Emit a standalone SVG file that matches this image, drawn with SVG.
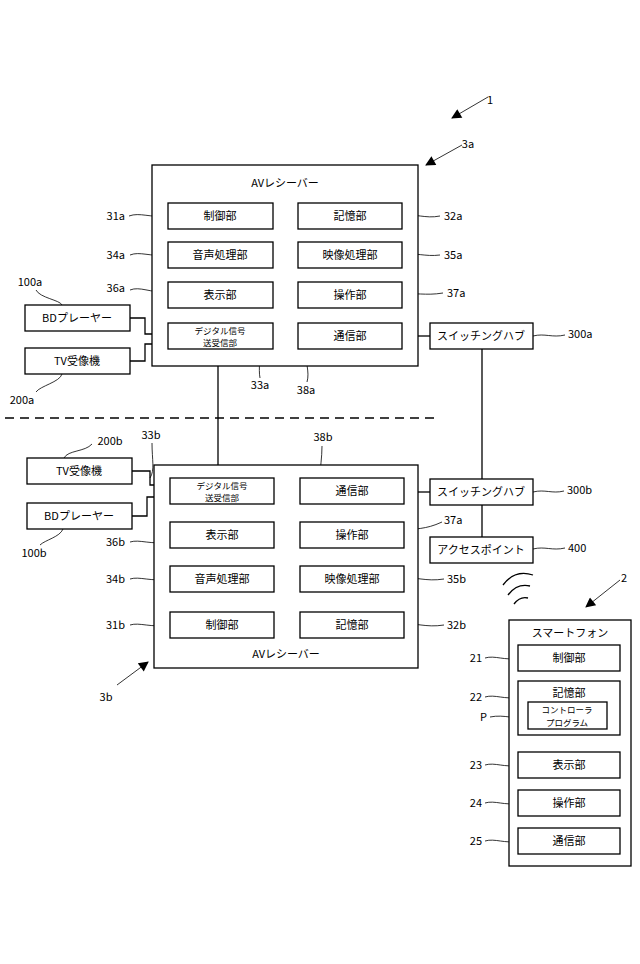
<svg xmlns="http://www.w3.org/2000/svg" width="640" height="964" viewBox="0 0 640 964">
<defs>
<style>
rect{fill:#fff;stroke:#000;stroke-width:1.3}
text{font-family:"Noto Sans CJK JP","Liberation Sans",sans-serif;font-size:11px;fill:#000}
.s{font-size:8.5px}
.c{text-anchor:middle}
.e{text-anchor:end}
.l{fill:none;stroke:#000;stroke-width:1.3}
.t{fill:none;stroke:#000;stroke-width:0.8}
</style>
<marker id="ar" viewBox="0 0 10 10" refX="9" refY="5" markerWidth="14" markerHeight="10" orient="auto" markerUnits="userSpaceOnUse"><path d="M0,0 L10,5 L0,10 z" fill="#000"/></marker>
</defs>
<rect width="640" height="964" style="stroke:none"/>
<g id="connectors">
<path class="l" d="M130,318 H145 V334 H168"/>
<path class="l" d="M130,361 H145 V344 H168"/>
<path class="l" d="M218,349 V478"/>
<path class="l" d="M402,336 H430"/>
<path class="l" d="M482,349 V479"/>
<path class="l" d="M132,471 H150 V485 H170"/>
<path class="l" d="M132,516 H147 V497 H170"/>
<path class="l" d="M404,492 H430"/>
<path class="l" d="M482,505 V537"/>
<path d="M5,418 H435" style="stroke:#000;stroke-width:1.5;stroke-dasharray:9,6;fill:none"/>
<path class="l" d="M503,585 q12,-16 30,-10 M508,595 q9,-12 22,-9 M514,604 q6,-8 14,-6"/>
<path class="t" d="M488,97 L452,118" marker-end="url(#ar)"/>
<path class="t" d="M462,145 L426,165" marker-end="url(#ar)"/>
<path class="t" d="M620,580 L586,607" marker-end="url(#ar)"/>
<path class="t" d="M117,685 L148,662" marker-end="url(#ar)"/>
<path class="t" d="M129,216 C140,212 150,218 168,216"/>
<path class="t" d="M130,255 C140,251 150,257 168,255"/>
<path class="t" d="M130,290 C140,286 150,293 168,292"/>
<path class="t" d="M402,216 C415,213 425,219 440,216"/>
<path class="t" d="M402,255 C415,252 425,257 440,255"/>
<path class="t" d="M402,295 C415,292 425,296 443,293"/>
<path class="t" d="M533,336 C545,333 552,338 565,335"/>
<path class="t" d="M36,290 C40,298 60,300 62,305"/>
<path class="t" d="M62,374 C60,382 40,386 36,392"/>
<path class="t" d="M255,349 C262,358 258,368 260,378"/>
<path class="t" d="M305,349 C305,360 310,372 307,382"/>
<path class="t" d="M64,458 C68,450 85,452 92,444"/>
<path class="t" d="M150,478 C155,470 152,460 152,443"/>
<path class="t" d="M320,478 C320,468 322,458 322,446"/>
<path class="t" d="M63,529 C60,537 45,540 40,545"/>
<path class="t" d="M130,542 C140,539 150,545 170,542"/>
<path class="t" d="M130,579 C140,576 150,582 170,579"/>
<path class="t" d="M130,625 C140,622 150,628 170,625"/>
<path class="t" d="M404,531 C415,528 425,530 442,522"/>
<path class="t" d="M404,579 C415,576 425,582 444,579"/>
<path class="t" d="M404,625 C415,622 425,628 444,625"/>
<path class="t" d="M533,492 C545,489 552,494 564,491"/>
<path class="t" d="M533,549 C545,546 552,551 565,548"/>
<path class="t" d="M485,658 C495,655 505,661 518,658"/>
<path class="t" d="M485,697 C495,694 505,700 518,697"/>
<path class="t" d="M490,717 C505,714 515,720 528,717"/>
<path class="t" d="M485,765 C495,762 505,768 518,765"/>
<path class="t" d="M485,803 C495,800 505,806 518,803"/>
<path class="t" d="M485,841 C495,838 505,844 518,841"/>
</g>
<g id="labels">
<text x="490" y="104" class="c">1</text>
<text x="468" y="148" class="c">3a</text>
<text x="125" y="220" class="e">31a</text>
<text x="125" y="259" class="e">34a</text>
<text x="125" y="292" class="e">36a</text>
<text x="444" y="220">32a</text>
<text x="444" y="259">35a</text>
<text x="447" y="297">37a</text>
<text x="568" y="338">300a</text>
<text x="30" y="286" class="c">100a</text>
<text x="22" y="404" class="c">200a</text>
<text x="260" y="389" class="c">33a</text>
<text x="306" y="394" class="c">38a</text>
<text x="110" y="445" class="c">200b</text>
<text x="151" y="439" class="c">33b</text>
<text x="323" y="441" class="c">38b</text>
<text x="34" y="557" class="c">100b</text>
<text x="125" y="546" class="e">36b</text>
<text x="125" y="583" class="e">34b</text>
<text x="125" y="629" class="e">31b</text>
<text x="444" y="524">37a</text>
<text x="447" y="583">35b</text>
<text x="447" y="629">32b</text>
<text x="567" y="494">300b</text>
<text x="568" y="552">400</text>
<text x="106" y="701" class="c">3b</text>
<text x="624" y="582" class="c">2</text>
<text x="482" y="662" class="e">21</text>
<text x="482" y="701" class="e">22</text>
<text x="487" y="721" class="e">P</text>
<text x="482" y="769" class="e">23</text>
<text x="482" y="807" class="e">24</text>
<text x="482" y="845" class="e">25</text>
</g>
<g id="receiverA">
<rect x="152" y="165" width="266" height="201"/>
<text x="285" y="187" class="c">AVレシーバー</text>
</g>
<g id="a31"><rect x="168" y="203" width="105" height="26"/><text x="220" y="220" class="c">制御部</text></g>
<g id="a32"><rect x="298" y="203" width="104" height="26"/><text x="350" y="220" class="c">記憶部</text></g>
<g id="a34"><rect x="168" y="242" width="105" height="26"/><text x="220" y="259" class="c">音声処理部</text></g>
<g id="a35"><rect x="298" y="242" width="104" height="26"/><text x="350" y="259" class="c">映像処理部</text></g>
<g id="a36"><rect x="168" y="282" width="105" height="26"/><text x="220" y="299" class="c">表示部</text></g>
<g id="a37"><rect x="298" y="282" width="104" height="26"/><text x="350" y="299" class="c">操作部</text></g>
<g id="a33"><rect x="168" y="323" width="105" height="26"/><text x="220" y="333.5" class="c s">デジタル信号</text><text x="220" y="346" class="c s">送受信部</text></g>
<g id="a38"><rect x="298" y="323" width="104" height="26"/><text x="350" y="340" class="c">通信部</text></g>
<g id="bdA"><rect x="25" y="305" width="105" height="26"/><text x="77" y="322" class="c">BDプレーヤー</text></g>
<g id="tvA"><rect x="25" y="348" width="105" height="26"/><text x="77" y="365" class="c">TV受像機</text></g>
<g id="hubA"><rect x="430" y="323" width="103" height="26"/><text x="481" y="340" class="c">スイッチングハブ</text></g>
<g id="receiverB">
<rect x="154" y="465" width="264" height="203"/>
<text x="286" y="658" class="c">AVレシーバー</text>
</g>
<g id="b33"><rect x="170" y="478" width="104" height="26"/><text x="222" y="488.5" class="c s">デジタル信号</text><text x="222" y="501" class="c s">送受信部</text></g>
<g id="b38"><rect x="300" y="478" width="104" height="26"/><text x="352" y="495" class="c">通信部</text></g>
<g id="b36"><rect x="170" y="522" width="104" height="26"/><text x="222" y="539" class="c">表示部</text></g>
<g id="b37"><rect x="300" y="522" width="104" height="26"/><text x="352" y="539" class="c">操作部</text></g>
<g id="b34"><rect x="170" y="566" width="104" height="26"/><text x="222" y="583" class="c">音声処理部</text></g>
<g id="b35"><rect x="300" y="566" width="104" height="26"/><text x="352" y="583" class="c">映像処理部</text></g>
<g id="b31"><rect x="170" y="612" width="104" height="26"/><text x="222" y="629" class="c">制御部</text></g>
<g id="b32"><rect x="300" y="612" width="104" height="26"/><text x="352" y="629" class="c">記憶部</text></g>
<g id="tvB"><rect x="27" y="458" width="105" height="26"/><text x="79" y="475" class="c">TV受像機</text></g>
<g id="bdB"><rect x="27" y="503" width="105" height="26"/><text x="79" y="520" class="c">BDプレーヤー</text></g>
<g id="hubB"><rect x="430" y="479" width="103" height="26"/><text x="481" y="496" class="c">スイッチングハブ</text></g>
<g id="ap"><rect x="430" y="537" width="103" height="26"/><text x="481" y="554" class="c">アクセスポイント</text></g>
<g id="phone">
<rect x="509" y="620" width="122" height="246"/>
<text x="570" y="637" class="c">スマートフォン</text>
</g>
<g id="p21"><rect x="518" y="645" width="102" height="26"/><text x="569" y="662" class="c">制御部</text></g>
<g id="p22"><rect x="518" y="681" width="102" height="54"/><text x="569" y="697" class="c">記憶部</text></g>
<g id="pP"><rect x="528" y="702" width="79" height="27"/><text x="567" y="713" class="c s">コントローラ</text><text x="567" y="725.5" class="c s">プログラム</text></g>
<g id="p23"><rect x="518" y="752" width="102" height="26"/><text x="569" y="769" class="c">表示部</text></g>
<g id="p24"><rect x="518" y="790" width="102" height="26"/><text x="569" y="807" class="c">操作部</text></g>
<g id="p25"><rect x="518" y="828" width="102" height="26"/><text x="569" y="845" class="c">通信部</text></g>
</svg>
